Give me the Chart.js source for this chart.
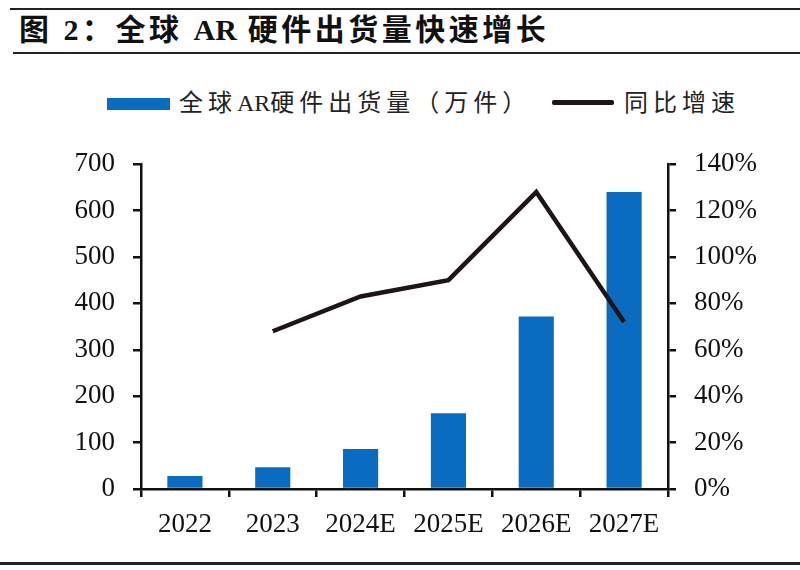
<!DOCTYPE html>
<html>
<head>
<meta charset="utf-8">
<script src="https://cdn.jsdelivr.net/npm/chart.js@4.4.1/dist/chart.umd.min.js"></script>
<style>
  body { margin: 0; background: #fff; }
  #wrap { position: relative; width: 800px; height: 570px; overflow: hidden; background: #fff; }
  .rule { position: absolute; left: 10px; right: 0; height: 2px; background: #222; }
  #titulo {
    position: absolute; left: 19px; top: 12px;
    font-family: "Liberation Serif", "Noto Sans CJK SC", serif;
    font-weight: bold; font-size: 30px; line-height: 36px;
    letter-spacing: 3.5px; color: #111; white-space: nowrap;
  }
  .lat { letter-spacing: 0; }
  #legenda {
    position: absolute; left: 0; top: 88px; width: 800px; height: 30px;
    font-family: "Liberation Serif", "Noto Sans CJK SC", serif;
    font-size: 24px; letter-spacing: 5px; color: #222;
  }
  .item { position: absolute; top: 0; height: 30px; white-space: nowrap; }
  .item span.txt { position: absolute; top: 0; line-height: 30px; }
  .item span.mk { position: absolute; }
  #box { position: absolute; left: 0; top: 130px; width: 800px; height: 420px; }
</style>
</head>
<body>
<div id="wrap">
  <div class="rule" style="top:8px"></div>
  <div id="titulo">图 2：全球 <span class="lat">AR</span> 硬件出货量快速增长</div>
  <div class="rule" style="top:52px; left:13px"></div>
  <div id="legenda"></div>
  <div id="box"><canvas id="grafico" width="800" height="420"></canvas></div>
  <div class="rule" style="top:562px; left:0; height:3px"></div>
</div>
<script>
// valores
var anos = ["2022", "2023", "2024E", "2025E", "2026E", "2027E"];
var remessas = [28, 47, 86, 163, 372, 640];          // 万件
var crescimento = [null, 68, 83, 90, 128, 72];        // %
var ticksEsq = [0, 100, 200, 300, 400, 500, 600, 700];
var ticksDir = [0, 20, 40, 60, 80, 100, 120, 140];

var rotuloBarra = "全球AR硬件出货量（万件）";
var rotuloLinha = "同比增速";
var corBarra = "#0A6CC0";
var corLinha = "#1E1416";

var fonteEixo = { family: "'Liberation Serif', 'Times New Roman', serif", size: 27 };

var ctx = document.getElementById("grafico").getContext("2d");
var grafico = new Chart(ctx, {
  type: "bar",
  data: {
    labels: anos,
    datasets: [
      {
        type: "line",
        label: rotuloLinha,
        data: crescimento,
        yAxisID: "y2",
        borderColor: corLinha,
        backgroundColor: corLinha,
        borderWidth: 4.5,
        pointRadius: 0,
        tension: 0,
        spanGaps: false,
        order: 0,
      },
      {
        type: "bar",
        label: rotuloBarra,
        data: remessas,
        yAxisID: "y",
        backgroundColor: corBarra,
        borderWidth: 0,
        categoryPercentage: 1,
        barPercentage: 0.4,
        order: 1,
      },
    ],
  },
  options: {
    responsive: false,
    animation: false,
    devicePixelRatio: 1,
    layout: { padding: { top: 33, left: 0, right: 0, bottom: 0 } },
    plugins: {
      legend: { display: false },
      tooltip: { enabled: false },
    },
    scales: {
      x: {
        offset: true,
        grid: {
          offset: true,
          drawOnChartArea: false,
          drawTicks: true,
          tickLength: 8,
          color: "#111",
          lineWidth: 2.5,
        },
        border: { color: "#111", width: 2.5 },
        ticks: { color: "#111", font: fonteEixo, padding: 12, maxRotation: 0 },
        afterFit: function (s) { s.height = 61; },
      },
      y: {
        position: "left",
        min: 0,
        max: 700,
        afterBuildTicks: function (s) {
          s.ticks = ticksEsq.map(function (v) { return { value: v }; });
        },
        grid: {
          drawOnChartArea: false,
          drawTicks: true,
          tickLength: 8,
          color: "#111",
          lineWidth: 2.5,
        },
        border: { color: "#111", width: 2.5 },
        ticks: { color: "#111", font: fonteEixo, padding: 18 },
        afterFit: function (s) { s.width = 141; },
      },
      y2: {
        position: "right",
        min: 0,
        max: 140,
        afterBuildTicks: function (s) {
          s.ticks = ticksDir.map(function (v) { return { value: v }; });
        },
        grid: {
          drawOnChartArea: false,
          drawTicks: true,
          tickLength: 8,
          color: "#111",
          lineWidth: 2.5,
        },
        border: { color: "#111", width: 2.5 },
        ticks: {
          color: "#111",
          font: fonteEixo,
          padding: 18,
          callback: function (v) { return v + "%"; },
        },
        afterFit: function (s) { s.width = 132; },
      },
    },
  },
});

// legenda feita à mão, a partir dos datasets
var legenda = document.getElementById("legenda");
function itemLegenda(x, texto, marcador, xTexto) {
  var div = document.createElement("div");
  div.className = "item";
  div.style.left = x + "px";
  var mk = document.createElement("span");
  mk.className = "mk";
  for (var k in marcador) mk.style[k] = marcador[k];
  var t = document.createElement("span");
  t.className = "txt";
  t.style.left = xTexto + "px";
  // "AR" sem espaçamento extra
  t.innerHTML = texto.replace("AR", '<span class="lat">AR</span>');
  div.appendChild(mk);
  div.appendChild(t);
  legenda.appendChild(div);
}
var dsBarra = grafico.data.datasets[1];
var dsLinha = grafico.data.datasets[0];
itemLegenda(107, dsBarra.label,
  { left: "0px", top: "10px", width: "63px", height: "12px", background: dsBarra.backgroundColor }, 72);
itemLegenda(552, dsLinha.label,
  { left: "0px", top: "12px", width: "62px", height: "5px", background: dsLinha.borderColor, borderRadius: "2px" }, 72);
</script>
</body>
</html>
